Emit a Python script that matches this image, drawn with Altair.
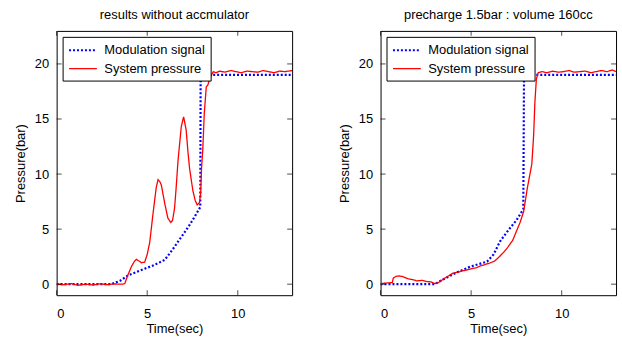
import altair as alt
import pandas as pd

MOD = "Modulation signal"
SYS = "System pressure"
SERIES = [MOD, SYS]
COLORS = ["#0000ff", "#ff0000"]

X_TICKS = [0, 5, 10]
Y_TICKS = [0, 5, 10, 15, 20]

TITLE_L = "results without accmulator"
TITLE_R = "precharge 1.5bar : volume 160cc"

# Left panel: modulation signal
LM_T = [0, 3.0, 3.5, 3.94, 4.4, 4.86, 5.4, 5.96, 6.2, 6.51, 6.8, 7.06, 7.35, 7.61, 7.93, 7.95, 13]
LM_P = [0, 0, 0.3, 0.8, 1.1, 1.4, 1.75, 2.2, 2.7, 3.4, 4.1, 4.7, 5.4, 6.1, 7.0, 19.0, 19.0]
# Left panel: system pressure
LS_T = [0, 0.4, 0.8, 1.2, 1.6, 2.0, 2.4, 2.8, 3.2, 3.6,
        3.76, 3.95, 4.13, 4.3, 4.4, 4.55, 4.68, 4.86, 5.0, 5.14,
        5.32, 5.5, 5.6, 5.7, 5.78, 5.96, 6.14, 6.3, 6.4, 6.51,
        6.6, 6.7, 6.88, 7.01, 7.15, 7.25, 7.34, 7.52, 7.65, 7.76,
        7.88, 7.95, 8.0, 8.07, 8.15, 8.26, 8.35, 8.44, 8.55, 8.65,
        8.8, 9.0, 9.3, 9.6, 9.9, 10.2, 10.5, 10.8, 11.1, 11.4,
        11.7, 12.0, 12.3, 12.6, 13.0]
LS_P = [0, -0.05, 0.05, -0.1, 0.0, -0.08, 0.03, -0.04, 0.02, 0.0,
        0.05, 0.9, 1.6, 2.1, 2.25, 2.1, 1.95, 2.0, 2.7, 3.8,
        6.4, 8.8, 9.5, 9.3, 9.0, 7.4, 6.0, 5.6, 5.8, 6.9,
        8.8, 11.2, 14.3, 15.2, 14.0, 12.0, 10.5, 8.5, 7.6, 7.2,
        7.4, 8.2, 10.5, 12.3, 15.5, 17.9, 18.1, 18.6, 19.0, 19.3,
        19.2, 19.35, 19.25, 19.4, 19.3, 19.2, 19.35, 19.3, 19.25, 19.4,
        19.3, 19.2, 19.35, 19.3, 19.4]

# Right panel: modulation signal
RM_T = [0, 2.98, 3.53, 4.25, 4.97, 5.88, 6.24, 6.6, 7.1, 7.5, 7.88, 7.92, 13]
RM_P = [0, 0, 0.5, 1.1, 1.6, 2.05, 2.7, 3.9, 5.0, 5.8, 6.8, 19.0, 19.0]
# Right panel: system pressure
RS_T = [0, 0.3, 0.65, 0.7, 0.85, 1.0, 1.2, 1.5, 1.8, 2.0,
        2.3, 2.5, 2.8, 3.0, 3.2, 3.5, 3.8, 4.0, 4.3, 4.5,
        4.8, 5.0, 5.3, 5.5, 5.8, 6.0, 6.3, 6.5, 6.8, 7.0,
        7.3, 7.5, 7.7, 7.9, 8.1, 8.35, 8.45, 8.52, 8.6, 8.7,
        8.9, 9.2, 9.5, 9.8, 10.1, 10.4, 10.7, 11.0, 11.3, 11.6,
        11.9, 12.2, 12.5, 12.8, 13.0]
RS_P = [0.05, 0.1, 0.15, 0.55, 0.7, 0.75, 0.7, 0.5, 0.4, 0.3,
        0.35, 0.25, 0.2, 0.05, 0.15, 0.5, 0.8, 1.0, 1.1, 1.2,
        1.3, 1.4, 1.5, 1.65, 1.8, 1.9, 2.1, 2.4, 2.9, 3.3,
        4.0, 4.8, 5.6, 6.6, 8.7, 10.9, 13.5, 16.5, 18.6, 19.2,
        19.3, 19.2, 19.35, 19.25, 19.3, 19.4, 19.25, 19.3, 19.35, 19.2,
        19.3, 19.4, 19.3, 19.45, 19.3]

FONT = "Liberation Sans"
W, H = 237, 266


def legend():
    return alt.Legend(
        title=None, orient="top-left", offset=6,
        fillColor="white", strokeColor="black", padding=5,
        labelFont=FONT, labelFontSize=13, labelColor="black",
        labelLimit=300, labelOffset=20,
        symbolType="M-1,0L3,0", symbolSize=196,
        symbolStrokeWidth=1.8, rowPadding=3)


def panel(mt, mp, st, sp, title):
    df = pd.DataFrame({
        "t": mt + st,
        "p": mp + sp,
        "series": [MOD] * len(mt) + [SYS] * len(st),
        "i": list(range(len(mt))) + list(range(len(st))),
    })
    xs = alt.Scale(domain=[0, 13], nice=False, zero=False)
    ys = alt.Scale(domain=[-1, 23], nice=False, zero=False)
    xax = alt.Axis(values=X_TICKS, title="Time(sec)", labelPadding=12, titlePadding=3)
    yax = alt.Axis(values=Y_TICKS, title="Pressure(bar)", labelPadding=8, titlePadding=7)
    lines = alt.Chart(df).mark_line(clip=True).encode(
        x=alt.X("t:Q", scale=xs, axis=xax),
        y=alt.Y("p:Q", scale=ys, axis=yax),
        color=alt.Color("series:N", scale=alt.Scale(domain=SERIES, range=COLORS),
                        legend=legend()),
        strokeDash=alt.StrokeDash("series:N",
                                  scale=alt.Scale(domain=SERIES, range=[[2, 2], [1, 0]]),
                                  legend=legend()),
        strokeWidth=alt.StrokeWidth("series:N",
                                    scale=alt.Scale(domain=SERIES, range=[2.2, 1.3]),
                                    legend=None),
        order="i:Q",
    )
    tick_x = pd.DataFrame({"t": X_TICKS})
    tick_y = pd.DataFrame({"p": Y_TICKS})
    xt_b = alt.Chart(tick_x).mark_tick(size=5, thickness=1, color="black").encode(
        x=alt.X("t:Q", scale=xs), y=alt.value(H - 2.5))
    xt_t = alt.Chart(tick_x).mark_tick(size=5, thickness=1, color="black").encode(
        x=alt.X("t:Q", scale=xs), y=alt.value(2.5))
    yt_l = alt.Chart(tick_y).mark_tick(size=5, thickness=1, color="black").encode(
        y=alt.Y("p:Q", scale=ys), x=alt.value(2.5))
    yt_r = alt.Chart(tick_y).mark_tick(size=5, thickness=1, color="black").encode(
        y=alt.Y("p:Q", scale=ys), x=alt.value(W - 2.5))
    return alt.layer(lines, xt_b, xt_t, yt_l, yt_r).properties(
        width=W, height=H, title=alt.Title(title, offset=9))


left = panel(LM_T, LM_P, LS_T, LS_P, TITLE_L)
right = panel(RM_T, RM_P, RS_T, RS_P, TITLE_R)

chart = alt.hconcat(left, right, spacing=45).resolve_scale(
    color="independent", strokeDash="independent", strokeWidth="independent"
).resolve_legend(
    color="independent", strokeDash="independent"
).properties(
    padding={"left": 14, "top": 7, "right": 5, "bottom": 3},
    background="white",
).configure_view(
    stroke="black", strokeWidth=1
).configure_axis(
    grid=False, domain=False, ticks=False,
    labelFont=FONT, labelFontSize=13, labelColor="black",
    titleFont=FONT, titleFontSize=13, titleFontWeight="normal", titleColor="black",
).configure_title(
    font=FONT, fontSize=13, fontWeight="normal", color="black", anchor="middle"
)

chart.save("out.html", embed_options={"renderer": "svg", "actions": False})
